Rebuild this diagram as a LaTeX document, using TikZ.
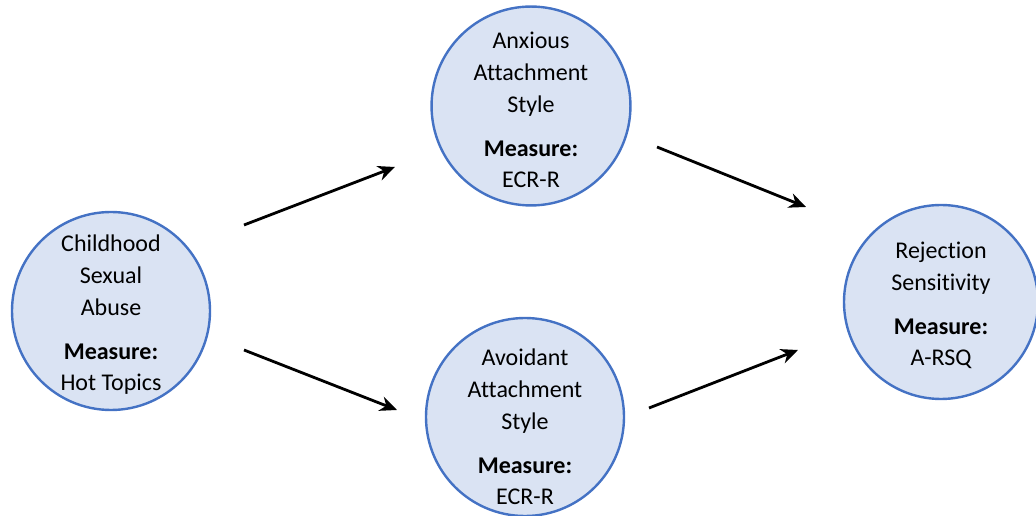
\documentclass[tikz,border=0pt]{standalone}
\usepackage{fontspec}
\setmainfont{Carlito}[Ligatures={NoCommon,TeX}]
\usetikzlibrary{arrows.meta}
\definecolor{cFill}{RGB}{218, 227, 243}
\definecolor{cEdge}{RGB}{68,  114, 196}
\tikzset{
  V/.style = {circle, draw=cEdge, fill=cFill, line width=2.4pt,
              minimum size=198pt, inner sep=0pt, align=center,
              font=\fontsize{24}{32}\selectfont},
  A/.style = {-{Stealth[length=17pt, width=15pt]}, line width=2.8pt},
}
\begin{document}
\begin{tikzpicture}[x=1pt, y=1pt]

%% Layout: one unit = one pixel of the 1036x516 frame, y upwards
\useasboundingbox (0,0) rectangle (1036,516);

%% ─── variables ───────────────────────────────────────────────────
\node[V] (csa) at (111, 205)
  {\rule{0pt}{24pt}Childhood\\Sexual\\Abuse\\[12pt]\textbf{Measure:}\\[-1pt]Hot Topics};
\node[V] (anx) at (531, 410)
  {\rule{0pt}{24pt}Anxious\\Attachment\\Style\\[12pt]\textbf{Measure:}\\[-1pt]ECR-R};
\node[V, inner ysep=-14pt] (avo) at (525, 99)
  {\rule{0pt}{36pt}Avoidant\\Attachment\\Style\\[12pt]\textbf{Measure:}\\[-1pt]ECR-R};
\node[V, minimum size=194pt] (rej) at (941, 214)
  {\rule{0pt}{24pt}Rejection\\Sensitivity\\[12pt]\textbf{Measure:}\\[-1pt]A-RSQ};

%% ─── paths ───────────────────────────────────────────────────────
\draw[A] ([shift={(133,86)}]csa.center)  -- ([shift={(-136,-61)}]anx.center);
\draw[A] ([shift={(133,-39)}]csa.center) -- ([shift={(-128,7)}]avo.center);
\draw[A] ([shift={(126,-41)}]anx.center) -- ([shift={(-135,95)}]rej.center);
\draw[A] ([shift={(124,9)}]avo.center)   -- ([shift={(-143,-48)}]rej.center);

\end{tikzpicture}
\end{document}
